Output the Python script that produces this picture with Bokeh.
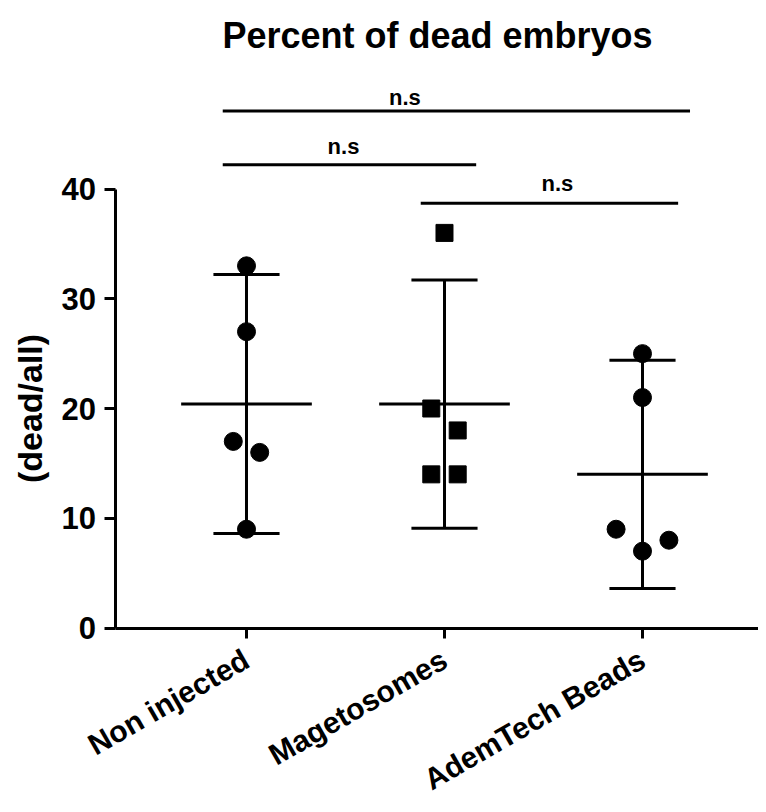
import math
from bokeh.plotting import figure
from bokeh.models import Range1d, FixedTicker, Label
from bokeh.embed import file_html
from bokeh.resources import INLINE

# ---------------- data ----------------
categories = ["Non injected", "Magetosomes", "AdemTech Beads"]
non_injected = [33, 27, 17, 16, 9]
magetosomes = [36, 20, 18, 14, 14]
ademtech_beads = [25, 21, 9, 7, 8]
# horizontal scatter slots of the points (in jitter steps)
jitter_non = [0, 0, -1, 1, 0]
jitter_mag = [0, -1, 1, -1, 1]
jitter_adem = [0, 0, -2, 0, 2]
means = [20.4, 20.4, 14.0]
ci_upper = [32.2, 31.7, 24.4]
ci_lower = [8.6, 9.1, 3.6]
# significance comparisons
comp_start = [0.88, 0.88, 1.88]
comp_end = [3.24, 2.16, 3.18]
comp_y = [47.1, 42.2, 38.7]
comp_label_x = [1.80, 1.49, 2.57]
comp_label_y = [48.3, 43.9, 40.5]
comp_labels = ["n.s", "n.s", "n.s"]
y_ticks = [0, 10, 20, 30, 40]
title_text = "Percent of dead embryos"
y_label_text = "(dead/all)"

FONT = "Liberation Sans"
JIT = 0.0667
MEAN_HW = 0.33
CAP_HW = 0.167
cat_pos = [1, 2, 3]

W, H = 758, 804
X0 = -0.2424          # data x at left canvas edge
XPX = 198.0           # px per category
Y0PX = 627.5          # canvas y of value 0
YPX = 10.975          # px per unit
x_range = Range1d(X0, X0 + W / XPX)
y_range = Range1d(-(H - Y0PX) / YPX, Y0PX / YPX)
AXIS_X = X0 + 114.5 / XPX

p = figure(width=W, height=H, x_range=x_range, y_range=y_range,
           output_backend="svg", toolbar_location=None,
           min_border_left=0, min_border_right=0,
           min_border_top=0, min_border_bottom=0)
p.outline_line_color = None
p.grid.grid_line_color = None
p.background_fill_color = "white"
p.border_fill_color = "white"

# y axis
ya = p.yaxis[0]
ya.fixed_location = AXIS_X
ya.bounds = (0, 40)
ya.ticker = FixedTicker(ticks=y_ticks)
ya.minor_tick_line_color = None
ya.major_tick_out = 11
ya.major_tick_in = 0
ya.major_tick_line_width = 3
ya.axis_line_width = 3
ya.axis_line_color = "black"
ya.major_tick_line_color = "black"
ya.major_label_text_font = FONT
ya.major_label_text_font_size = "31px"
ya.major_label_text_font_style = "bold"
ya.major_label_text_color = "black"
ya.major_label_standoff = 8

# x axis
xa = p.xaxis[0]
xa.fixed_location = 0
xa.bounds = (AXIS_X, X0 + W / XPX)
xa.ticker = FixedTicker(ticks=cat_pos)
xa.major_label_overrides = {c: name for c, name in zip(cat_pos, categories)}
xa.major_label_orientation = math.pi / 6
xa.minor_tick_line_color = None
xa.major_tick_out = 10
xa.major_tick_in = 0
xa.major_tick_line_width = 3
xa.axis_line_width = 3
xa.axis_line_color = "black"
xa.major_tick_line_color = "black"
xa.major_label_text_font = FONT
xa.major_label_text_font_size = "30px"
xa.major_label_text_font_style = "bold"
xa.major_label_text_color = "black"
xa.major_label_standoff = 19

# error bars (95% CI) and means
cx = cat_pos
p.segment(x0=cx, y0=ci_lower, x1=cx, y1=ci_upper, line_width=3, line_color="black")
p.segment(x0=[c - CAP_HW for c in cx], y0=ci_upper, x1=[c + CAP_HW for c in cx], y1=ci_upper,
          line_width=3, line_color="black")
p.segment(x0=[c - CAP_HW for c in cx], y0=ci_lower, x1=[c + CAP_HW for c in cx], y1=ci_lower,
          line_width=3, line_color="black")
p.segment(x0=[c - MEAN_HW for c in cx], y0=means, x1=[c + MEAN_HW for c in cx], y1=means,
          line_width=3, line_color="black")

# points
p.scatter(x=[1 + j * JIT for j in jitter_non], y=non_injected, marker="circle",
          size=18, fill_color="black", line_color="black")
p.scatter(x=[2 + j * JIT for j in jitter_mag], y=magetosomes, marker="square",
          size=17, fill_color="black", line_color="black")
p.scatter(x=[3 + j * JIT for j in jitter_adem], y=ademtech_beads, marker="circle",
          size=18, fill_color="black", line_color="black")

# significance bars
p.segment(x0=comp_start, y0=comp_y, x1=comp_end, y1=comp_y, line_width=3, line_color="black")
for lx, ly, txt in zip(comp_label_x, comp_label_y, comp_labels):
    p.add_layout(Label(x=lx, y=ly, text=txt, text_align="center", text_baseline="alphabetic",
                       text_font=FONT, text_font_size="22px", text_font_style="bold",
                       text_color="black"))

# title
p.add_layout(Label(x=X0 + 437 / XPX, y=(Y0PX - 35) / YPX, text=title_text,
                   text_align="center", text_baseline="alphabetic",
                   text_font=FONT, text_font_size="36px", text_font_style="bold",
                   text_color="black"))

# y axis label
p.add_layout(Label(x=X0 + 29 / XPX, y=20, text=y_label_text, angle=math.pi / 2,
                   text_align="center", text_baseline="middle",
                   text_font=FONT, text_font_size="34px", text_font_style="bold",
                   text_color="black"))

open("out.html", "w").write(file_html(p, INLINE))
